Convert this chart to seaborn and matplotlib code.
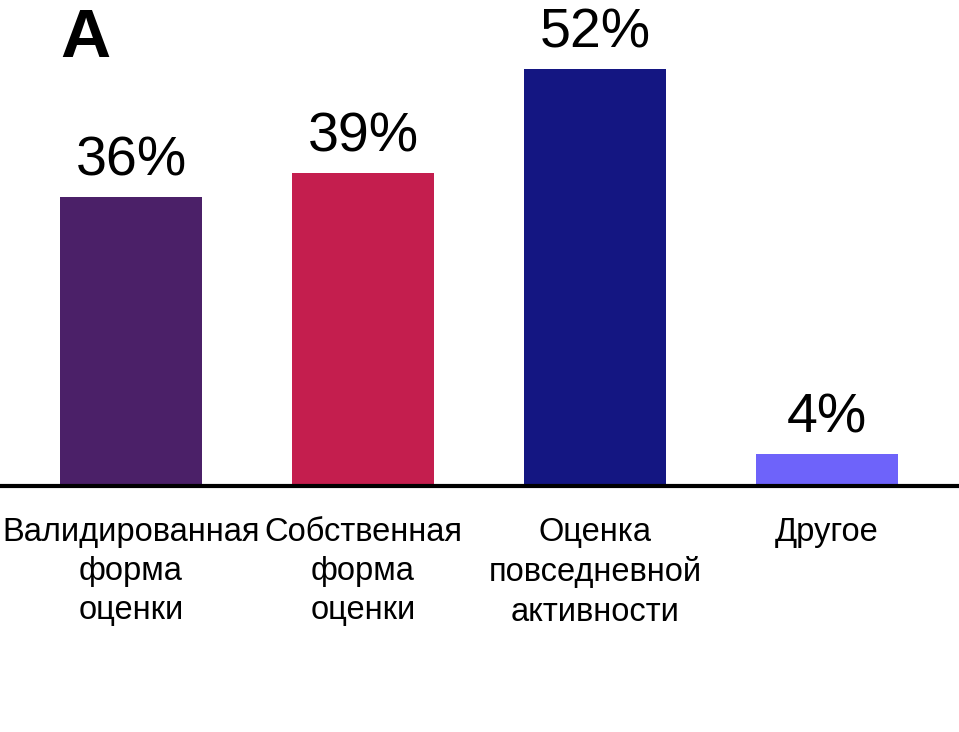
import matplotlib
matplotlib.use("Agg")
import matplotlib.pyplot as plt
import seaborn as sns
import pandas as pd

categories = ["Валидированная\nформа\nоценки", "Собственная\nформа\nоценки",
              "Оценка\nповседневной\nактивности", "Другое"]
values = [36, 39, 52, 4]
colors = ["#4B2068", "#C41E4E", "#141682", "#6E63FA"]

plt.rcParams["font.family"] = "Liberation Sans"
df = pd.DataFrame({"cat": categories, "val": values})
fig = plt.figure(figsize=(9.59, 7.32), dpi=100)
ax = fig.add_axes([0, 0.336, 1, 0.657])
sns.barplot(data=df, x="cat", y="val", hue="cat", palette=colors, order=categories,
            width=0.61, legend=False, ax=ax, saturation=1)
ax.set_xlim(-0.565, 3.57)
ax.set_ylim(0, 60)
for i, v in enumerate(values):
    ax.text(i, v + 1.2, f"{v}%", ha="center", va="bottom", fontsize=40)
ax.set_xlabel(""); ax.set_ylabel("")
ax.set_yticks([])
for s in ["top", "right", "left"]:
    ax.spines[s].set_visible(False)
ax.spines["bottom"].set_linewidth(3)
ax.tick_params(axis="x", length=0, labelsize=23.5, pad=22)
ax.set_xticks(range(4))
ax.set_xticklabels(categories, linespacing=1.35)
fig.text(0.063, 0.99, "A", fontsize=50, fontweight="bold", va="top")
fig.savefig("out.png", dpi=100)
